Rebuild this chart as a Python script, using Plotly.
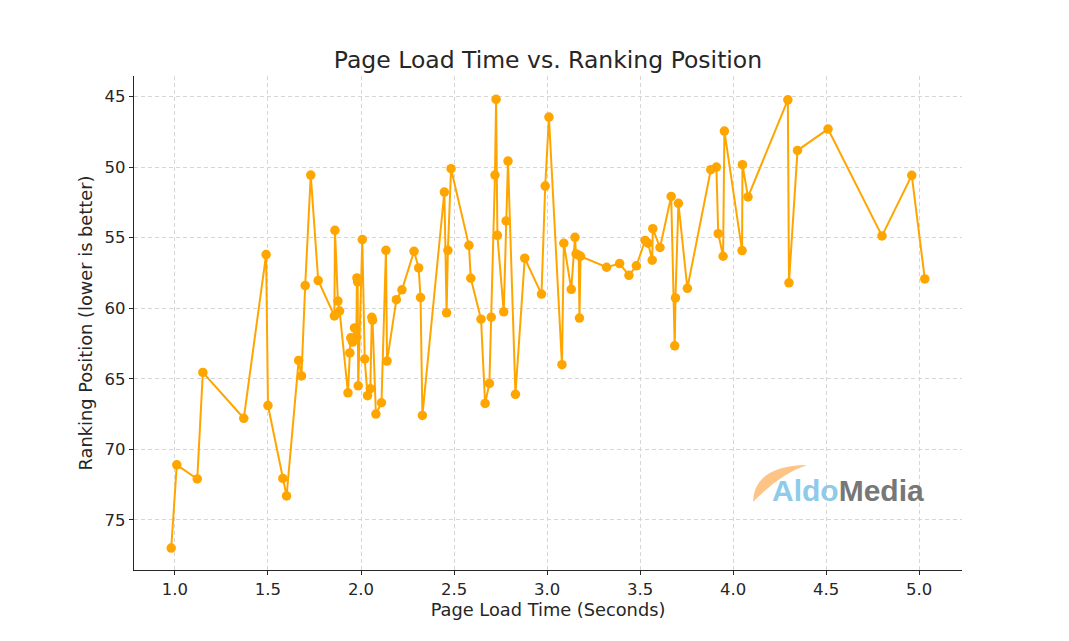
import plotly.graph_objects as go

# Data (sorted by load time)
load_time = [
    0.98, 1.01, 1.12, 1.15, 1.37, 1.49, 1.50, 1.58, 1.60, 1.665, 1.68, 1.70, 1.73, 1.77,
    1.857, 1.86, 1.876, 1.885,
    1.93, 1.94, 1.945, 1.955, 1.965, 1.975, 1.978, 1.982, 1.985,
    2.007, 2.02, 2.035, 2.05, 2.058, 2.062, 2.08, 2.11, 2.134, 2.14, 2.19, 2.22, 2.285, 2.31, 2.32, 2.33,
    2.448, 2.46, 2.467, 2.484, 2.58, 2.59, 2.645, 2.667, 2.69, 2.70, 2.72, 2.726, 2.733, 2.767, 2.78, 2.79, 2.83, 2.88,
    2.97, 2.99, 3.01, 3.08, 3.09, 3.13, 3.15, 3.156, 3.17, 3.174, 3.18,
    3.32, 3.39, 3.44, 3.48, 3.527, 3.543, 3.565, 3.568, 3.607, 3.667, 3.686, 3.69, 3.706, 3.754,
    3.88, 3.91, 3.92, 3.946, 3.953, 4.048, 4.05, 4.08,
    4.294, 4.30, 4.346, 4.51, 4.80, 4.96, 5.03,
]
ranking = [
    77.0, 71.1, 72.1, 64.55, 67.8, 56.2, 66.9, 72.06, 73.3, 63.7, 64.8, 58.4, 50.57, 58.04,
    60.55, 54.48, 59.5, 60.2,
    66.0, 63.17, 62.1, 62.4, 61.4, 62.06, 57.86, 58.14, 65.5,
    55.14, 63.6, 66.2, 65.7, 60.65, 60.85, 67.5, 66.7, 55.9, 63.75, 59.4, 58.7, 55.97, 57.15, 59.25, 67.6,
    51.77, 60.33, 55.9, 50.12, 55.55, 57.88, 60.78, 66.75, 65.33, 60.64, 50.57, 45.2, 54.84, 60.26, 53.82, 49.58, 66.1, 56.46,
    59.0, 51.35, 46.46, 64.0, 55.4, 58.66, 54.98, 56.16, 56.25, 60.7, 56.32,
    57.1, 56.84, 57.67, 57.0, 55.2, 55.4, 56.6, 54.37, 55.7, 52.08, 62.67, 59.27, 52.57, 58.59,
    50.19, 50.0, 54.72, 56.32, 47.45, 55.92, 49.83, 52.12,
    45.24, 58.2, 48.82, 47.31, 54.88, 50.59, 57.93,
]

x_ticks = [1.0, 1.5, 2.0, 2.5, 3.0, 3.5, 4.0, 4.5, 5.0]
y_ticks = [45, 50, 55, 60, 65, 70, 75]

OFF = 8  # page body margin
W, H = 1069 - OFF, 641 - OFF
L, R, T, B = 134 - OFF, 962 - OFF, 76 - OFF, 570 - OFF

FONT = "DejaVu Sans"
ORANGE = "#FFA500"
TXT = "#262626"

fig = go.Figure()
fig.add_trace(go.Scatter(
    x=load_time, y=ranking, mode="lines+markers",
    line=dict(color=ORANGE, width=2),
    marker=dict(color=ORANGE, size=9.5),
    showlegend=False, hoverinfo="x+y",
))

def px2paper(px, py):
    return (px - OFF - L) / (R - L), (B - (py - OFF)) / (B - T)

# Logo swoosh (crescent), in paper coordinates
pts = [(753, 502), (754, 466), (807, 465), (780, 474), (753, 502)]
pp = [px2paper(*p) for p in pts]
path = "M {0[0]},{0[1]} Q {1[0]},{1[1]} {2[0]},{2[1]} Q {3[0]},{3[1]} {4[0]},{4[1]} Z".format(*pp)

grid = dict(showgrid=True, gridcolor="#d6d6d6", gridwidth=1, griddash="4px,3px", zeroline=False)
axline = dict(showline=True, linecolor=TXT, linewidth=1.2, mirror=False,
              ticks="outside", ticklen=4, tickcolor=TXT, tickwidth=1.2)

fig.update_layout(
    width=W, height=H,
    margin=dict(l=L, r=W - R, t=T, b=H - B, pad=0),
    paper_bgcolor="white", plot_bgcolor="white",
    font=dict(family=FONT, color=TXT, size=16),
    title=dict(text="Page Load Time vs. Ranking Position", x=(L + R) / 2 / W, xanchor="center",
               y=1 - (60 - OFF) / H, yanchor="middle", font=dict(size=23.5, family=FONT, color=TXT)),
    xaxis=dict(
        range=[0.78, 5.23], tickvals=x_ticks, ticktext=[f"{v:.1f}" for v in x_ticks],
        **axline, **grid,
        tickfont=dict(size=16.5, family=FONT, color=TXT),
        title=dict(text="Page Load Time (Seconds)", standoff=4, font=dict(size=17.8, family=FONT)),
    ),
    yaxis=dict(
        range=[78.55, 43.55], tickvals=y_ticks,
        **axline, **grid,
        tickfont=dict(size=16.5, family=FONT, color=TXT),
        title=dict(text="Ranking Position (lower is better)", standoff=7, font=dict(size=17.8, family=FONT)),
    ),
    shapes=[dict(type="path", xref="paper", yref="paper", path=path,
                 fillcolor="#FDBE78", line=dict(width=0), opacity=0.9, layer="above")],
    annotations=[dict(
        xref="paper", yref="paper", x=px2paper(848, 490)[0], y=px2paper(848, 490)[1],
        xanchor="center", yanchor="middle", showarrow=False,
        text="<b><span style='color:#8ECAEA'>Aldo</span><span style='color:#777777'>Media</span></b>",
        font=dict(size=30, family="Liberation Sans"),
    )],
)

fig.write_html("out.html")
